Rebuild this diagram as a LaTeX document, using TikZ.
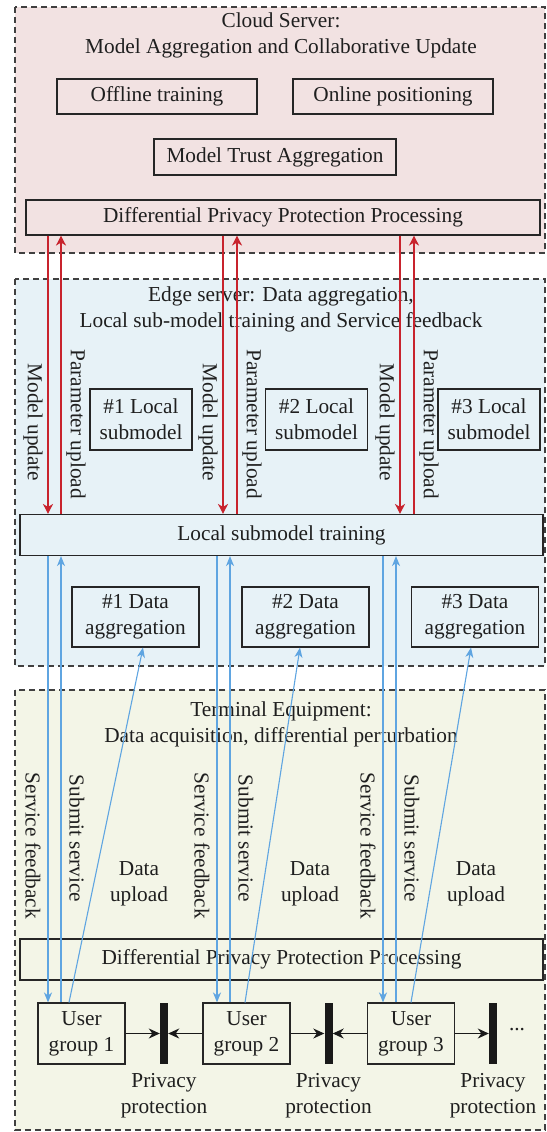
\documentclass[tikz,border=0pt]{standalone}
\usepackage{fontspec}
\setmainfont{Liberation Serif}
\usetikzlibrary{arrows.meta}
\definecolor{cloudbg}{RGB}{242,226,226}
\definecolor{edgebg}{RGB}{231,242,247}
\definecolor{termbg}{RGB}{243,245,231}
\definecolor{modelred}{RGB}{200,35,45}
\definecolor{linkblue}{RGB}{95,165,225}
\newcommand{\boxlw}{1.1pt}

\begin{document}
\begin{tikzpicture}[x=1pt, y=-1pt,
    font=\fontsize{21.3}{26}\selectfont, text=black!88,
    zone/.style={draw=black!75, line width=1.2pt, dash pattern=on 6pt off 4pt},
    blk/.style={draw=black!85, line width=\boxlw, align=center, inner sep=0pt},
    lbl/.style={align=center, inner sep=0pt},
    vlbl/.style={rotate=-90, inner sep=0pt},
    bar/.style={fill=black!90, inner sep=0pt, minimum width=8pt, minimum height=61pt},
    redtip/.style={draw=modelred, line width=1.2pt, -{Stealth[length=10pt,width=10pt,inset=3pt]}},
    bluetip/.style={draw=linkblue, line width=1.1pt, -{Stealth[length=10pt,width=8pt,inset=3pt]}},
    blacktip/.style={draw=black!90, line width=1.2pt, -{Stealth[length=11pt,width=10pt,inset=3.5pt]}}]
\useasboundingbox (0,0) rectangle (546,1132);
\filldraw[zone, fill=cloudbg] (15,7) rectangle (545,253);
\filldraw[zone, fill=edgebg] (15,279) rectangle (545,666);
\filldraw[zone, fill=termbg] (15,690) rectangle (545,1130);

% cloud server
\node[lbl] (ctitle) at (281,35) {Cloud Server:\\Model Aggregation and Collaborative Update};
\node[blk, minimum width=200pt, minimum height=35pt] (offline) at (157,96.5) {Offline training};
\node[blk, minimum width=200pt, minimum height=35pt] (online) at (393,96.5) {Online positioning};
\node[blk, minimum width=242pt, minimum height=36pt] (trust) at (275,157) {Model Trust Aggregation};
\node[blk, minimum width=514pt, minimum height=35pt] (cdpp) at (283,217.5) {Differential Privacy Protection Processing};

% edge server
\node[lbl] (etitle) at (281,309.5) {Edge server: Data aggregation,\\Local sub-model training and Service feedback};
\node[blk, minimum width=523pt, minimum height=41pt] (lst) at (281.5,535) {Local submodel training};
\foreach \i/\xm/\xp/\xs/\xa in {1/48/61/141/135.5, 2/223/237/316.5/305.5, 3/400/414/489/475}{
    \node[blk, minimum width=102pt, minimum height=61pt] (sub\i) at (\xs,419.5) {\#\i{} Local\\submodel};
    \node[blk, minimum width=127pt, minimum height=60pt] (agg\i) at (\xa,617) {\#\i{} Data\\aggregation};
    \coordinate (mu\i) at (\xm,0);
    \coordinate (pu\i) at (\xp,0);
    \node[vlbl] (mulbl\i) at (\xm-15,422.5) {Model update};
    \node[vlbl] (pulbl\i) at (\xp+15,424) {Parameter upload};
    \draw[redtip] (cdpp.south -| mu\i) -- (lst.north -| mu\i);
    \draw[redtip] (lst.north -| pu\i) -- (cdpp.south -| pu\i);
}

% terminal equipment
\node[lbl] (ttitle) at (281,724) {Terminal Equipment:\\Data acquisition, differential perturbation};
\node[blk, minimum width=523pt, minimum height=41pt] (tdpp) at (281.5,959.5) {Differential Privacy Protection Processing};
\foreach \i/\xf/\xu/\xg/\xb/\xs/\xe/\xl in {1/48/61/81.5/164/69/143/139, 2/217/230/246.5/328.5/245/300/310, 3/383/396/411/493/411/471/476}{
    \node[blk, minimum width=87pt, minimum height=61pt] (ug\i) at (\xg,1033.5) {User\\group \i};
    \node[bar] (pp\i) at (\xb,1033.5) {};
    \node[lbl] (pplbl\i) at (\xb,1096) {Privacy\\protection};
    \node[lbl] (dulbl\i) at (\xl,883.5) {Data\\upload};
    \coordinate (sf\i) at (\xf,0);
    \coordinate (sv\i) at (\xu,0);
    \coordinate (dus\i) at (\xs,0);
    \coordinate (due\i) at (\xe,0);
    \node[vlbl] (sflbl\i) at (\xf-15,846) {Service feedback};
    \node[vlbl] (svlbl\i) at (\xu+16,838.5) {Submit service};
    \draw[bluetip] (lst.south -| sf\i) -- (ug\i.north -| sf\i);
    \draw[bluetip] (ug\i.north -| sv\i) -- (lst.south -| sv\i);
    \draw[bluetip] (ug\i.north -| dus\i) -- (agg\i.south -| due\i);
    \draw[blacktip] (ug\i) -- (pp\i);
}
\draw[blacktip] (ug2) -- (pp1);
\draw[blacktip] (ug3) -- (pp2);
\node[lbl] (dots) at (517,1030) {...};
\end{tikzpicture}
\end{document}
